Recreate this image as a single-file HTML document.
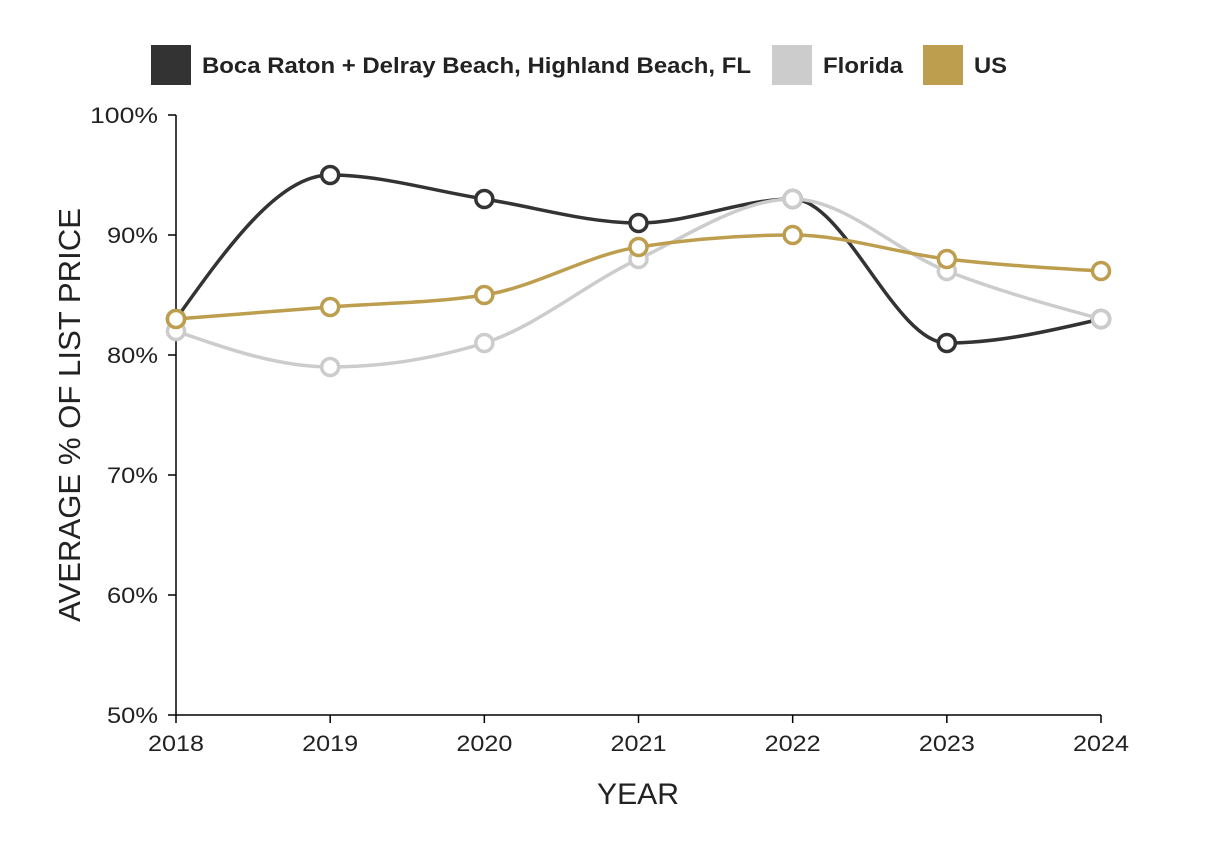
<!DOCTYPE html>
<html><head><meta charset="utf-8"><style>
body{margin:0;background:#fff;width:1206px;height:848px;overflow:hidden;font-family:"Liberation Sans",sans-serif}
</style></head><body>
<svg id="chart" width="1206" height="848" xmlns="http://www.w3.org/2000/svg"></svg>
<script>
const years=[2018,2019,2020,2021,2022,2023,2024];
const bocaValues=[83,95,93,91,93,81,83];
const floridaValues=[82,79,81,88,93,87,83];
const usValues=[83,84,85,89,90,88,87];
const yTicks=[50,60,70,80,90,100];
const seriesNames=["Boca Raton + Delray Beach, Highland Beach, FL","Florida","US"];
const NS="http://www.w3.org/2000/svg";
const svg=document.getElementById('chart');
const x0=176,x1=1101,yTop=115,yBot=715;
const xs=i=>x0+(x1-x0)*i/(years.length-1);
const ys=v=>yBot-(v-50)/50*(yBot-yTop);
function mk(t,a,p){const e=document.createElementNS(NS,t);for(const k in a)e.setAttribute(k,a[k]);(p||svg).appendChild(e);return e;}
let g=mk('g',{});


mk('line',{x1:x0,y1:yTop,x2:x0,y2:yBot,stroke:'#000','stroke-width':1.5},g);
yTicks.forEach(v=>{mk('line',{x1:x0-8,y1:ys(v),x2:x0,y2:ys(v),stroke:'#000','stroke-width':1.5},g);
 const s=v+'%';
 const t=mk('text',{x:x0-18,y:ys(v)+8,'text-anchor':'end','font-size':22,fill:'#222',textLength:s.length*17,lengthAdjust:'spacingAndGlyphs'},g);t.textContent=s;
 
 });
let gx=mk('g',{});


mk('line',{x1:x0,y1:yBot,x2:x1,y2:yBot,stroke:'#000','stroke-width':1.5},gx);
years.forEach((y,i)=>{mk('line',{x1:xs(i),y1:yBot,x2:xs(i),y2:yBot+8,stroke:'#000','stroke-width':1.5},gx);
 const t=mk('text',{x:xs(i),y:yBot+36,'text-anchor':'middle','font-size':22,fill:'#222',textLength:56,lengthAdjust:'spacingAndGlyphs'},gx);t.textContent=y;
 
 });
let yt=mk('text',{x:0,y:0,transform:'translate(80,415) rotate(-90)','text-anchor':'middle','font-size':31,fill:'#222',textLength:414,lengthAdjust:'spacingAndGlyphs'});
yt.textContent='AVERAGE % OF LIST PRICE';


let xt=mk('text',{x:638,y:804,'text-anchor':'middle','font-size':30,fill:'#222',textLength:82,lengthAdjust:'spacingAndGlyphs'});
xt.textContent='YEAR';


function monoPath(px,py){const n=px.length,d=[],m=[];
 for(let i=0;i<n-1;i++)d.push((py[i+1]-py[i])/(px[i+1]-px[i]));
 for(let i=0;i<n;i++){if(i==0)m.push(d[0]);else if(i==n-1)m.push(d[n-2]);
  else{if(d[i-1]*d[i]<=0)m.push(0);else{const h0=px[i]-px[i-1],h1=px[i+1]-px[i];
   const p=(d[i-1]*h1+d[i]*h0)/(h0+h1);
   m.push((Math.sign(d[i-1])+Math.sign(d[i]))*Math.min(Math.abs(d[i-1]),Math.abs(d[i]),0.5*Math.abs(p)));}}}
 m[0]=(3*d[0]-m[1])/2; m[n-1]=(3*d[n-2]-m[n-2])/2;
 let s='M'+px[0]+','+py[0];
 for(let i=0;i<n-1;i++){const h=(px[i+1]-px[i])/3;
  s+=' C'+(px[i]+h)+','+(py[i]+m[i]*h)+' '+(px[i+1]-h)+','+(py[i+1]-m[i+1]*h)+' '+px[i+1]+','+py[i+1];}
 return s;}
const series=[[bocaValues,'#333333','boca'],[floridaValues,'#cccccc','florida'],[usValues,'#bd9e4f','us']];
series.forEach(([vals,col,nm])=>{
 const sg=mk('g',{});
 
 
 const px=vals.map((v,i)=>xs(i)),py=vals.map(ys);
 const p=mk('path',{d:monoPath(px,py),fill:'none',stroke:col,'stroke-width':3.5},sg);
 
 
 vals.forEach((v,i)=>{const c=mk('circle',{cx:xs(i),cy:ys(v),r:8.5,fill:'#fff',stroke:col,'stroke-width':3.5},sg);
  
  });
});
const legX=[151,772,923],cols=['#333333','#cccccc','#bd9e4f'],legW=[549,80,33];
seriesNames.forEach((n,i)=>{const lg=mk('g',{});
 
 
 mk('rect',{x:legX[i],y:45,width:40,height:40,fill:cols[i]},lg);
 const t=mk('text',{x:legX[i]+51,y:73,'font-size':22,'font-weight':'bold',fill:'#222',textLength:legW[i],lengthAdjust:'spacingAndGlyphs'},lg);t.textContent=n;});
</script>
</body></html>
